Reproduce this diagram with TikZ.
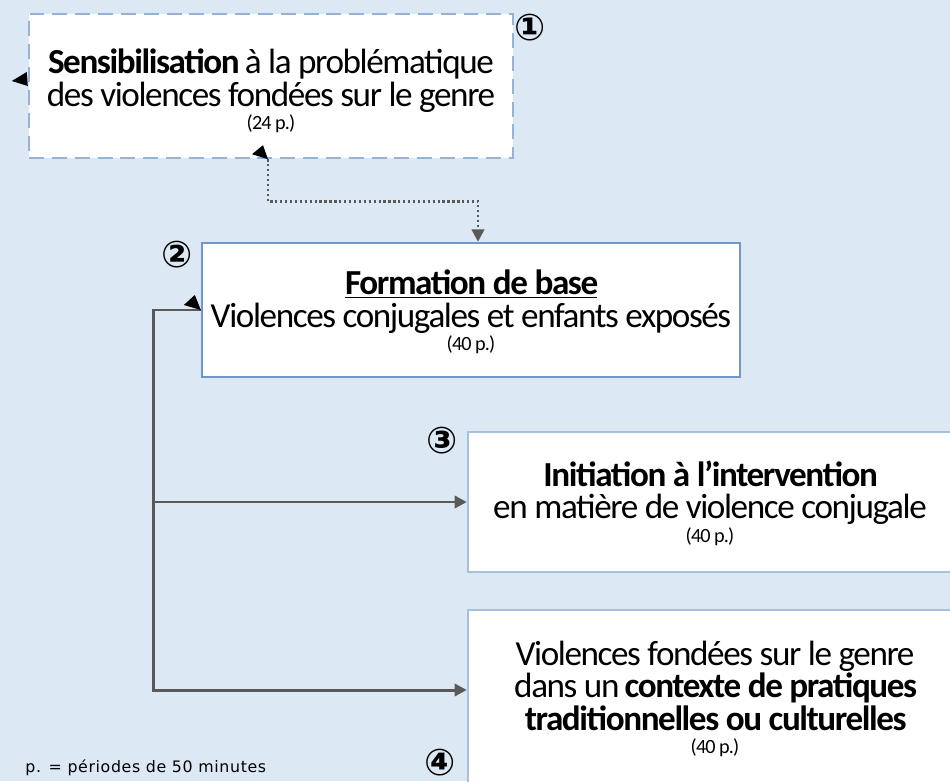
\documentclass[tikz,border=0pt]{standalone}
\usepackage{fontspec}
\setmainfont{Carlito}[LetterSpace=-4]
\newfontfamily\circfont{DejaVu Sans Bold}
\newfontfamily\notefont{DejaVu Sans}[LetterSpace=4]
\usetikzlibrary{calc,arrows.meta}

\definecolor{panelbg}{RGB}{221,232,245}
\definecolor{boxline}{RGB}{149,179,215}
\definecolor{boxdark}{RGB}{112,150,202}
\definecolor{boxlight}{RGB}{166,192,222}
\definecolor{linkgray}{RGB}{89,89,89}

\newcommand{\pp}[1]{{\fontsize{11.5}{12}\selectfont (#1\,p.)}}

\tikzset{
  module/.style={draw=boxline, fill=white, line width=1.4pt, inner sep=0pt},
  modtext/.style={align=center, inner sep=0pt, font=\fontsize{20}{18.5}\selectfont},
  stepnum/.style={font=\circfont\fontsize{21}{21}\selectfont, inner sep=0pt},
  link/.style={draw=linkgray, line width=1.7pt, -{Triangle[length=7pt,width=7pt]}},
  dotlink/.style={draw=linkgray, line width=1.6pt, dash pattern=on 1.3pt off 1.5pt,
    -{Triangle[length=7pt,width=7pt]}},
  stubtip/.style={fill=black},
}

\begin{document}
\begin{tikzpicture}[x=0.02cm, y=-0.02cm]
			%%%%% BACKGROUND %%%%%
			\fill[panelbg] (0, 0) rectangle (950, 781);
			\useasboundingbox (0, 0) rectangle (950, 781);
			
			%%%%% MODULES %%%%%
			\node[module, dashed, dash pattern=on 8.5pt off 4.5pt, minimum width=9.68cm, minimum height=2.88cm] (sensib) at (271, 86) {};
			\node[module, draw=boxdark, minimum width=10.76cm, minimum height=2.68cm] (base) at (471, 310) {};
			\node[module, draw=boxlight, minimum width=9.68cm, minimum height=2.8cm] (init) at (710, 502) {};
			\node[module, draw=boxlight, minimum width=9.88cm, minimum height=3.8cm] (cult) at (715, 705) {};
			
			\node[modtext] (sensibtxt) at ($(sensib.center)+(0, 5)$)
				{\textbf{Sensibilisation} à la problématique\\des violences fondées sur le genre\\[-5pt]\pp{24}};
			\node[modtext] (basetxt) at ($(base.center)+(0, 2)$)
				{\underline{\textbf{Formation de base}}\\Violences conjugales et enfants exposés\\[-5pt]\pp{40}};
			\node[modtext] (inittxt) at ($(init.center)+(0, 1)$)
				{\textbf{Initiation à l’intervention}\\en matière de violence conjugale\\[-5pt]\pp{40}};
			\node[modtext] (culttxt) at ($(cult.center)+(0, -6)$)
				{Violences fondées sur le genre\\dans un \textbf{contexte de pratiques}\\\textbf{traditionnelles ou culturelles}\\[-5pt]\pp{40}};
			
			%%%%% NUMBERS %%%%%
			\node[stepnum] (n1) at (530, 28) {①};
			\node[stepnum] (n2) at (177, 255) {②};
			\node[stepnum] (n3) at (442, 441) {③};
			\node[stepnum] (n4) at (440, 763) {④};
			
			%%%%% LINKS %%%%%
			\coordinate (sensibout) at ($(sensib.south)+(-3, 0)$);
			\coordinate (basein) at ($(base.north)+(7, 0)$);
			\coordinate (cultin) at ($(cult.west)+(0, -15)$);
			\draw[dotlink] (sensibout) -- ++(0, 42) -| (basein);
			\draw[link] (base.west) -- ++(-47, 0) |- (cultin);
			\draw[link] (base.west -| 155, 0) ++(0, 192) -- (init.west);
			
			%%%%% STRAY TIPS %%%%%
			\fill[stubtip] (sensib.west) -- ++(-16, -5) -- ++(15, -9) -- cycle;
			\fill[stubtip] (sensibout) -- ++(-16, -5) -- ++(11, -9) -- cycle;
			\fill[stubtip] (base.west) -- ++(-17, -5) -- ++(11, -10) -- cycle;
			
			%%%%% NOTE %%%%%
			\node[anchor=west, inner sep=0pt, font=\notefont\fontsize{9}{10}\selectfont] (note) at (25, 768) {p. = périodes de 50 minutes};
			
		\end{tikzpicture}
\end{document}
